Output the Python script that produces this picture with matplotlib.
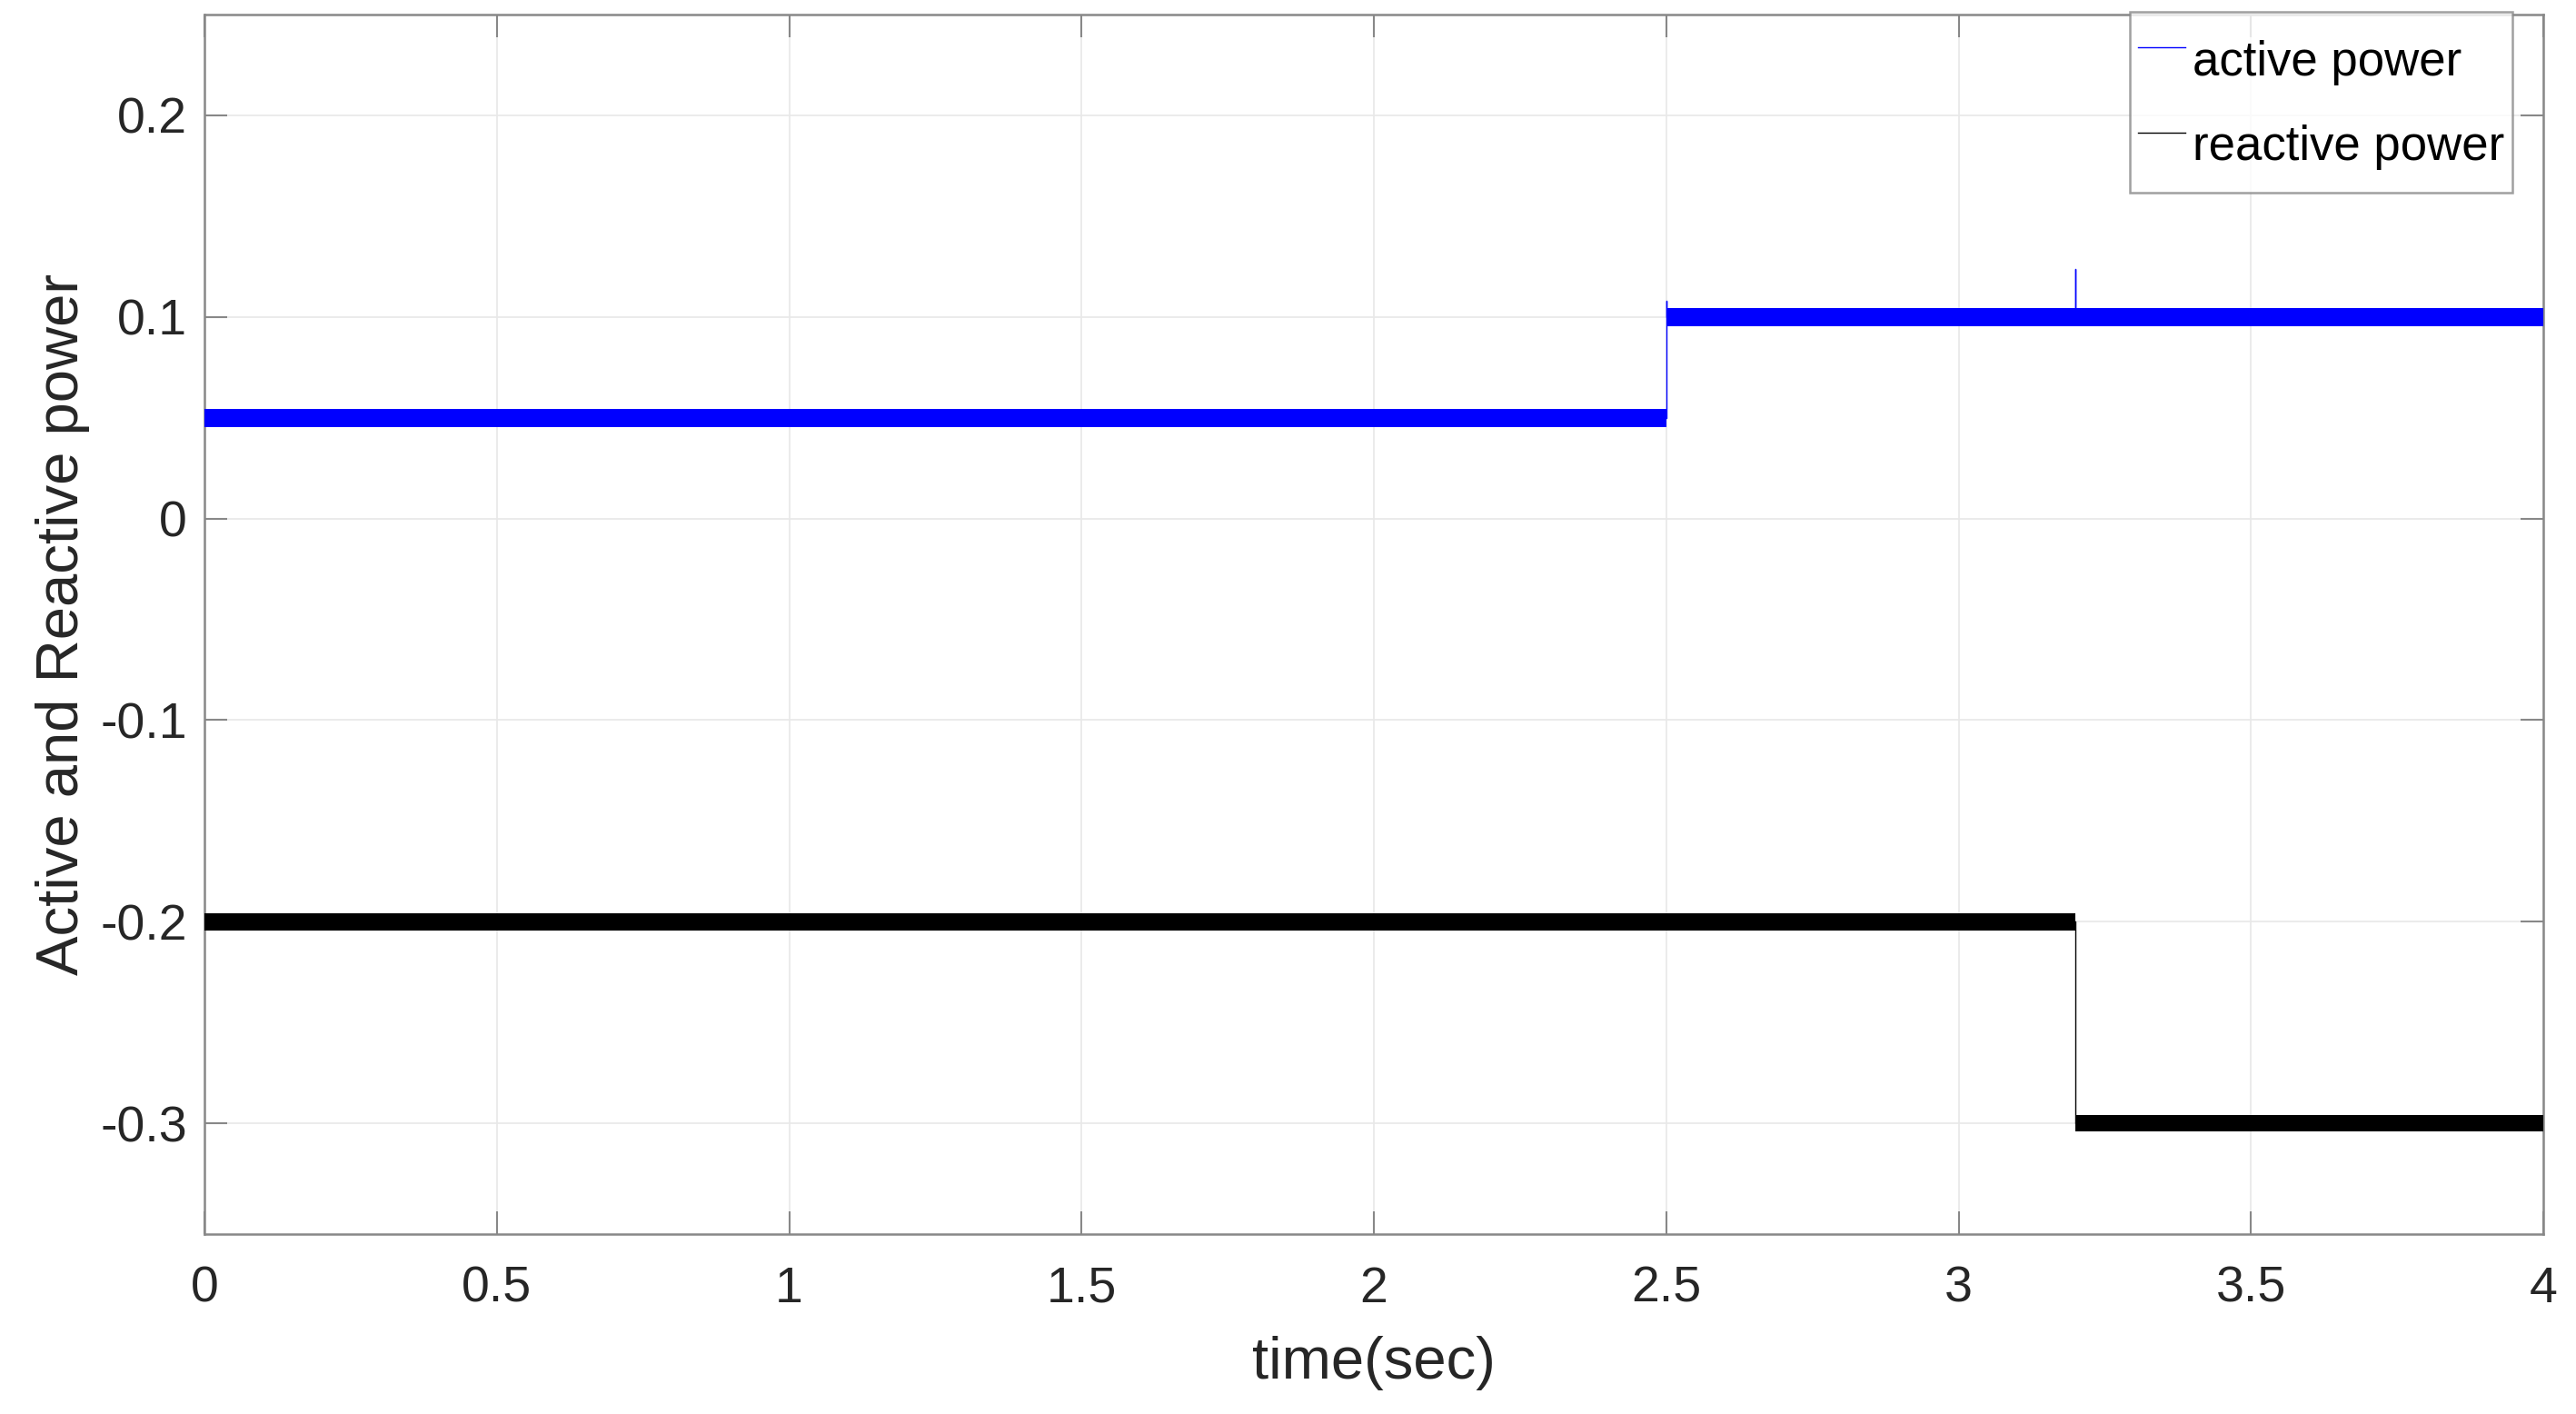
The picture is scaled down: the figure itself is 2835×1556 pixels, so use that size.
import matplotlib
matplotlib.use('Agg')
import matplotlib.pyplot as plt
import numpy as np

# step levels
active_seg_start = [0.0, 2.5]
active_seg_end = [2.5, 4.0]
active_level = [0.05, 0.10]
active_ripple = 0.0045

reactive_seg_start = [0.0, 3.2]
reactive_seg_end = [3.2, 4.0]
reactive_level = [-0.20, -0.30]
reactive_ripple = 0.0042

# centre line incl. the switching transients
active_t = [0.0, 2.5, 2.5, 2.5, 3.2, 3.2, 3.2, 4.0]
active_p = [0.05, 0.05, 0.108, 0.10, 0.10, 0.124, 0.10, 0.10]
reactive_t = [0.0, 3.2, 3.2, 4.0]
reactive_q = [-0.20, -0.20, -0.30, -0.30]

x_ticks = [0, 0.5, 1, 1.5, 2, 2.5, 3, 3.5, 4]
x_tick_labels = ['0', '0.5', '1', '1.5', '2', '2.5', '3', '3.5', '4']
y_ticks = [-0.3, -0.2, -0.1, 0, 0.1, 0.2]
y_tick_labels = ['-0.3', '-0.2', '-0.1', '0', '0.1', '0.2']

plt.rcParams['font.family'] = ['Liberation Sans', 'DejaVu Sans']
plt.rcParams['axes.unicode_minus'] = False

fig = plt.figure(figsize=(28.35, 15.56), dpi=100)
ax = fig.add_axes([0.0794, 0.1272, 0.9079, 0.8625])

edge = '#888888'

for s, e, lv in zip(active_seg_start, active_seg_end, active_level):
    ax.fill_between([s, e], lv - active_ripple, lv + active_ripple,
                    color='#0000ff', linewidth=0, zorder=3)
for s, e, lv in zip(reactive_seg_start, reactive_seg_end, reactive_level):
    ax.fill_between([s, e], lv - reactive_ripple, lv + reactive_ripple,
                    color='#000000', linewidth=0, zorder=3)

ax.plot(active_t, active_p, color='#0000ff', lw=1.0, zorder=4, label='active power')
ax.plot(reactive_t, reactive_q, color='#000000', lw=1.0, zorder=4, label='reactive power')

ax.set_xlim(0, 4)
ax.set_ylim(-0.355, 0.25)
ax.set_xticks(x_ticks)
ax.set_xticklabels(x_tick_labels)
ax.set_yticks(y_ticks)
ax.set_yticklabels(y_tick_labels)

ax.grid(True, color='#e8e8e8', lw=1.2, zorder=0)
ax.set_axisbelow(True)
for sp in ax.spines.values():
    sp.set_color(edge)
    sp.set_linewidth(1.8)

ax.tick_params(axis='both', direction='in', length=18, width=1.5, color=edge,
               labelsize=40, labelcolor='#262626', top=True, right=True)
ax.tick_params(axis='x', pad=25)
ax.tick_params(axis='y', pad=14)

ax.set_xlabel('time(sec)', fontsize=47, color='#262626', labelpad=18)
ax.set_ylabel('Active and Reactive power', fontsize=47, color='#262626', labelpad=8)

leg = ax.legend(loc='upper right', bbox_to_anchor=(2765 / 2835, 1 - 13 / 1556),
                bbox_transform=fig.transFigure, fontsize=38, frameon=True,
                fancybox=False, borderpad=0.17, borderaxespad=0, handlelength=1.0,
                handleheight=2.19, handletextpad=0.14, labelspacing=0.1)
leg.get_frame().set_edgecolor(edge)
leg.get_frame().set_linewidth(1.8)
leg.set_zorder(10)

plt.savefig('out.png', dpi=100)
